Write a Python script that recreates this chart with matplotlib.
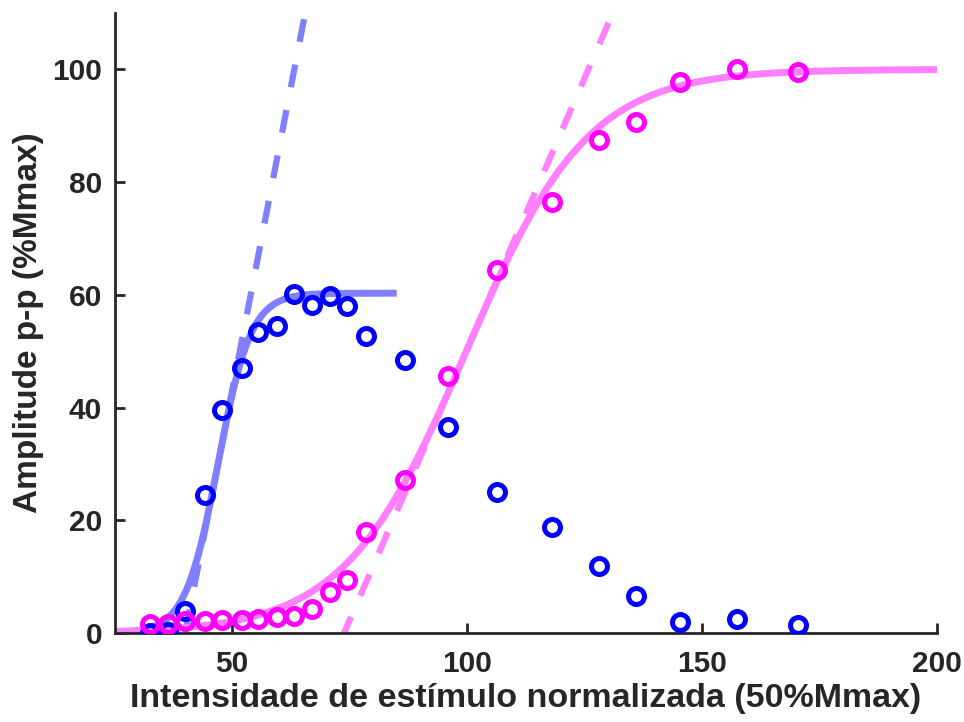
import numpy as np
import matplotlib
matplotlib.use("Agg")
import matplotlib.pyplot as plt

plt.rcParams['font.family'] = ['Liberation Sans', 'DejaVu Sans']
plt.rcParams['font.weight'] = 'bold'

# Normalized stimulus intensity (shared by both series)
intensity = [32.5, 36.4, 40.0, 44.3, 47.9, 52.0, 55.6, 59.5, 63.1, 66.9, 70.8,
             74.4, 78.5, 86.8, 96.0, 106.3, 118.0, 128.1, 136.0, 145.2, 157.4, 170.4]
# Measured p-p amplitudes (%Mmax)
amp_blue = [0.0, 0.3, 4.0, 24.5, 39.5, 47.0, 53.4, 54.5, 60.2, 58.2, 59.8,
            58.0, 52.7, 48.4, 36.6, 25.0, 18.8, 12.0, 6.6, 2.0, 2.5, 1.4]
amp_magenta = [1.6, 1.6, 2.1, 2.1, 2.3, 2.4, 2.6, 2.8, 3.1, 4.3, 7.3,
               9.4, 18.0, 27.1, 45.6, 64.5, 76.4, 87.5, 90.7, 97.7, 100.1, 99.6]

# Boltzmann fit parameters: plateau, midpoint, slope factor, fitted range
fit_blue = dict(top=60.3, x50=47.0, k=3.5, xmin=25, xmax=85)
fit_magenta = dict(top=100.0, x50=99.8, k=13.0, xmin=25, xmax=200)


def boltzmann(x, top, x50, k):
    return top / (1 + np.exp((x50 - x) / k))


c_blue, c_blue_fit = (0, 0, 1), (0.5, 0.5, 1)
c_mag, c_mag_fit = (1, 0, 1), (1, 0.5, 1)

fig = plt.figure(figsize=(9.64, 7.22), dpi=100)
ax = fig.add_axes([0.119, 0.123, 0.853, 0.859])

for fit, cfit in [(fit_blue, c_blue_fit), (fit_magenta, c_mag_fit)]:
    xs = np.linspace(fit['xmin'], fit['xmax'], 400)
    ax.plot(xs, boltzmann(xs, fit['top'], fit['x50'], fit['k']),
            color=cfit, lw=5, zorder=2, solid_capstyle='butt')
    # tangent at the midpoint
    slope = fit['top'] / (4 * fit['k'])
    xt = np.array([0, 300])
    ax.plot(xt, fit['top'] / 2 + slope * (xt - fit['x50']), color=cfit,
            lw=4.5, dashes=(3.7, 3.7), zorder=2)

ax.plot(intensity, amp_blue, 'o', mfc='none', mec=c_blue, ms=11.5, mew=3.6, zorder=3)
ax.plot(intensity, amp_magenta, 'o', mfc='none', mec=c_mag, ms=11.5, mew=3.6, zorder=3)

ax.set_xlim(25, 200)
ax.set_ylim(0, 110)
ax.set_xticks([50, 100, 150, 200])
ax.set_yticks([0, 20, 40, 60, 80, 100])

for s in ['top', 'right']:
    ax.spines[s].set_visible(False)
for s in ['left', 'bottom']:
    ax.spines[s].set_color('#262626')
    ax.spines[s].set_linewidth(2)
ax.tick_params(direction='in', length=7, width=2, color='#262626',
               labelsize=21.5, labelcolor='#262626')
ax.tick_params(axis='x', pad=12)
ax.tick_params(axis='y', pad=9)

ax.set_xlabel('Intensidade de estímulo normalizada (50%Mmax)', fontsize=24.5,
              fontweight='bold', color='#262626', labelpad=4)
ax.set_ylabel('Amplitude p-p (%Mmax)', fontsize=24, fontweight='bold',
              color='#262626', labelpad=6)

fig.savefig('out.png', dpi=100)
